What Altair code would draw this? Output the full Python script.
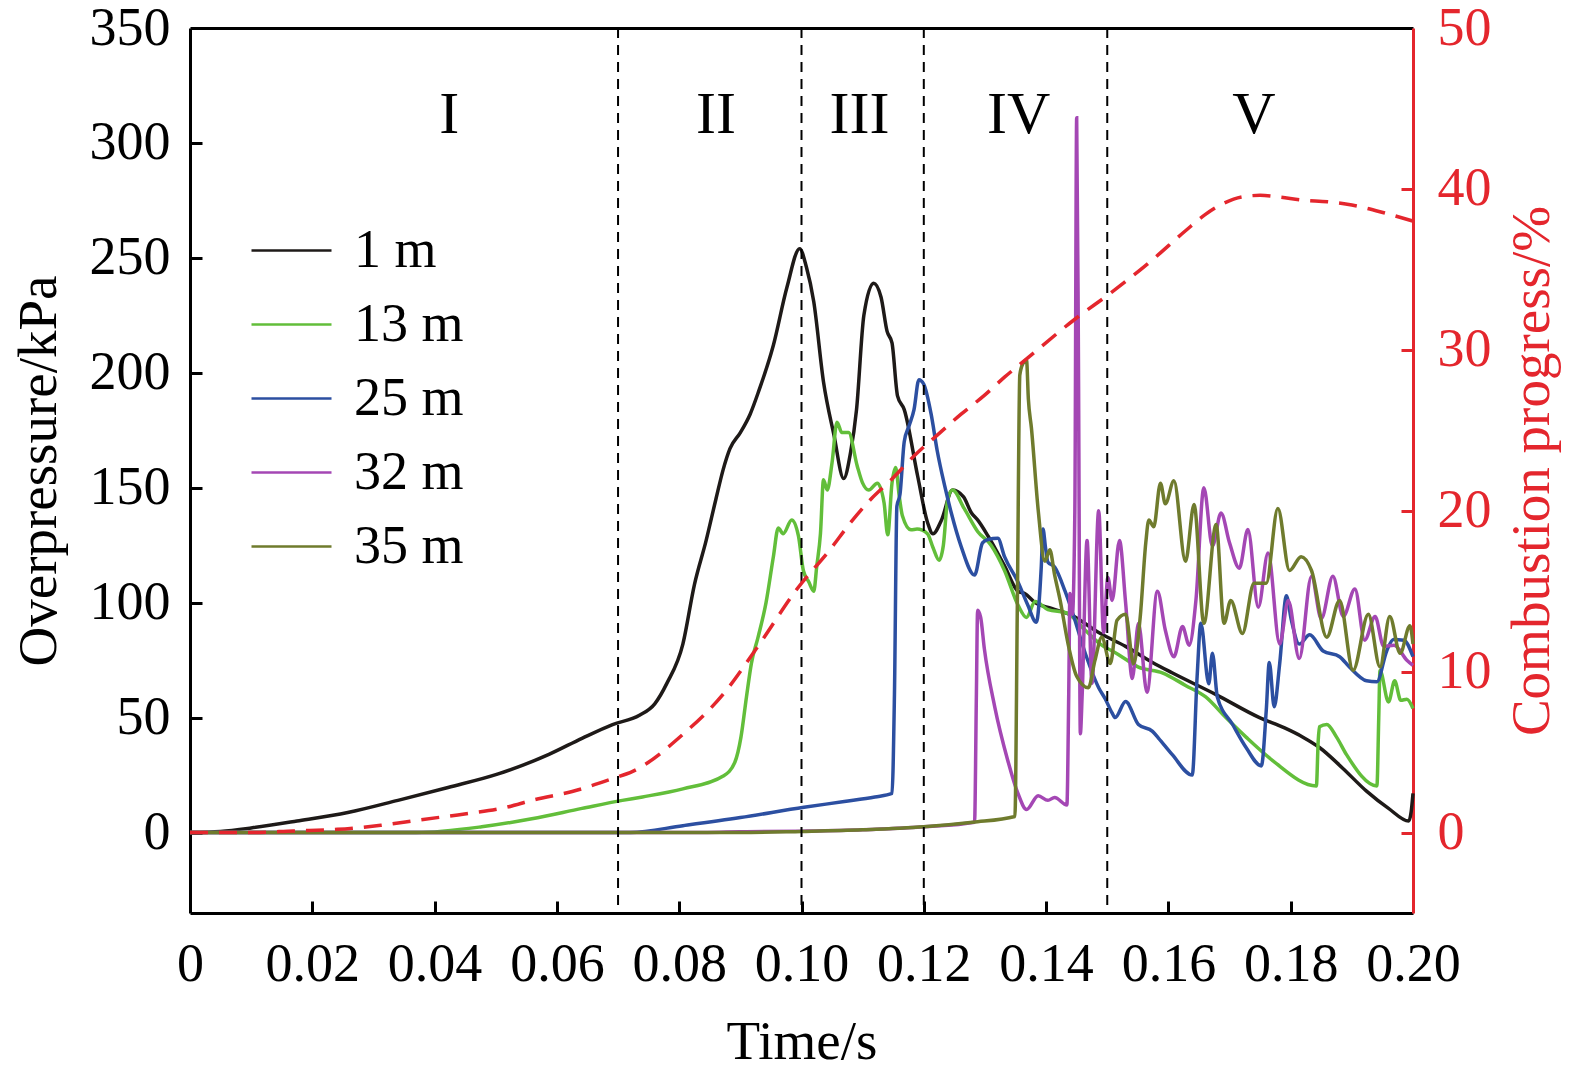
import altair as alt
import pandas as pd

FONT = "Liberation Serif"
RED = "#e4262d"

# ---------------- data ----------------
series_names = ["1 m", "13 m", "25 m", "32 m", "35 m"]
series_colors = ["#1e1a18", "#62be3a", "#2c4fa1", "#a447b4", "#6f7b2d"]

t_1m = [0, 0.005, 0.01, 0.0175, 0.0258, 0.034, 0.0422, 0.0504, 0.0587, 0.0641, 0.0691, 0.0735,
        0.076, 0.078, 0.0806, 0.0825, 0.0844, 0.086, 0.0872, 0.0883, 0.090, 0.0916, 0.093, 0.0954,
        0.0976, 0.0997, 0.1008, 0.102, 0.1036, 0.1053, 0.1069, 0.108, 0.109, 0.1102, 0.1118, 0.113,
        0.114, 0.1148, 0.1157, 0.1168, 0.119, 0.1206, 0.1215, 0.1229, 0.1247, 0.1265, 0.1278, 0.1288,
        0.1305, 0.1332, 0.1354, 0.1365, 0.1382, 0.1409, 0.1442, 0.1486, 0.153, 0.1574, 0.1606, 0.1678,
        0.1749, 0.179, 0.182, 0.1847, 0.1885, 0.1924, 0.196, 0.1993, 0.1997, 0.2]
p_1m = [0, 0.5, 2, 5, 8.7, 14, 19.6, 25.5, 34, 41, 47, 51,
        56, 65, 82, 108, 127, 145, 158, 167, 174, 182, 192, 212,
        237, 254, 246, 231, 196, 173, 154, 165, 184, 225, 239, 233,
        218, 213, 190, 184, 155, 135, 130, 136, 149, 146, 139, 136,
        129, 116, 105, 104, 100, 97.5, 94.5, 87, 81, 74, 69.5, 60,
        50, 45.5, 41.5, 37, 28, 18, 10.5, 5, 9, 17]

t_13m = [0, 0.037, 0.0477, 0.0559, 0.0641, 0.0707, 0.074, 0.0806, 0.0872, 0.0891, 0.0901, 0.091,
         0.0918, 0.0929, 0.0942, 0.0954, 0.0962, 0.097, 0.0984, 0.0995, 0.1003, 0.1012, 0.102, 0.1025,
         0.1031, 0.1036, 0.1042, 0.105, 0.1058, 0.1066, 0.1077, 0.1091, 0.110, 0.111, 0.1124, 0.1135,
         0.1141, 0.1148, 0.1154, 0.116, 0.1165, 0.1179, 0.1189, 0.1206, 0.1215, 0.1225, 0.1232, 0.1239,
         0.1247, 0.1266, 0.1288, 0.131, 0.1332, 0.1354, 0.1368, 0.1382, 0.1403, 0.1434, 0.1464, 0.1486,
         0.1518, 0.1551, 0.159, 0.1628, 0.1661, 0.1694, 0.1727, 0.1771, 0.1842, 0.1845, 0.1847, 0.1859,
         0.1875, 0.1891, 0.1941, 0.1944, 0.1946, 0.196, 0.197, 0.198, 0.199, 0.2]
p_13m = [0, 0, 2.5, 6, 10.5, 14, 15.5, 19, 24.6, 30.6, 41.5, 59,
         73.5, 85, 100, 120, 132.5, 130, 136, 129, 114, 109, 105, 116,
         130, 153.5, 149, 161, 178.5, 174, 174, 159.6, 152, 149, 152, 143.5,
         129.5, 152, 158.8, 146, 137.8, 131.7, 132, 130, 124, 118.5, 125, 144.8,
         149, 141, 131, 125, 114, 99, 93.6, 100.5, 97, 95.5, 88, 82.5,
         77.5, 72, 69.5, 64, 59, 50, 41.5, 31.2, 20.3, 40, 46, 47,
         41.5, 34, 20.3, 50, 70.5, 56.8, 66, 57.5, 58, 54]

t_25m = [0, 0.072, 0.0806, 0.09, 0.1004, 0.107, 0.112, 0.1148, 0.1152, 0.1156, 0.1161, 0.1168,
         0.1176, 0.1184, 0.1192, 0.12, 0.1212, 0.1222, 0.1234, 0.1245, 0.1261, 0.1283, 0.1296, 0.1305,
         0.1321, 0.1332, 0.1354, 0.137, 0.1384, 0.1392, 0.1395, 0.1399, 0.1403, 0.1414, 0.1431, 0.1442,
         0.1464, 0.1486, 0.1497, 0.1508, 0.1513, 0.153, 0.1551, 0.1574, 0.1584, 0.1606, 0.1639, 0.1647,
         0.1653, 0.1666, 0.1672, 0.168, 0.1705, 0.1727, 0.1752, 0.176, 0.1765, 0.1773, 0.1782, 0.1793,
         0.1801, 0.1814, 0.1831, 0.1853, 0.188, 0.1896, 0.1924, 0.1941, 0.1957, 0.1968, 0.1985, 0.2]
p_25m = [0, 0, 3, 6.5, 11, 13.5, 15.5, 17, 60, 142, 147, 170,
         177, 184, 197, 195, 182, 166, 151, 139, 124.5, 112, 126, 127.5,
         128, 120, 109, 99, 91.5, 115, 132, 124, 117.6, 115.5, 105, 96.7,
         78, 63, 58, 52, 50, 57, 47, 44, 41, 34, 25, 68,
         91, 64.7, 78, 59, 47, 37, 29, 53, 74, 54.7, 73.5, 103,
         92.5, 82, 86, 79, 76.5, 72, 66, 65.6, 79, 84, 83.7, 76.5]

t_32m = [0, 0.08, 0.09, 0.10, 0.11, 0.12, 0.1283, 0.1286, 0.1288, 0.1293, 0.1299, 0.1316,
         0.1337, 0.1354, 0.1368, 0.1387, 0.1403, 0.1414, 0.1434, 0.1437, 0.1439, 0.1443, 0.1447, 0.145,
         0.1453, 0.1456, 0.1459, 0.1467, 0.1475, 0.1486, 0.1494, 0.1501, 0.1508, 0.152, 0.153, 0.1541,
         0.1551, 0.1565, 0.1582, 0.1595, 0.1609, 0.1623, 0.1634, 0.1645, 0.1658, 0.1672, 0.1686, 0.170,
         0.1716, 0.173, 0.1747, 0.1763, 0.1782, 0.1796, 0.1814, 0.1834, 0.185, 0.1869, 0.1886, 0.1905,
         0.1921, 0.1938, 0.1952, 0.1969, 0.199, 0.2]
p_32m = [0, 0, 0.3, 0.6, 1.2, 2.5, 4.5, 60, 96.7, 93.6, 80, 54.7,
         31.7, 17, 10, 16, 14, 15.3, 12, 60, 104, 95, 140, 311,
         200, 43, 60, 127, 65, 140, 87, 111, 101, 127, 100, 67,
         91, 61, 105, 88, 76.5, 89.6, 81.5, 101, 150, 124.6, 139, 126,
         115, 131.8, 98, 121.6, 82, 101, 75.7, 111.5, 93, 111.5, 94, 106,
         83.7, 94, 81, 81.5, 75, 72.7]

t_35m = [0, 0.09, 0.10, 0.11, 0.12, 0.128, 0.1349, 0.1353, 0.1357, 0.1362, 0.1368, 0.1371,
         0.1376, 0.1387, 0.1398, 0.1406, 0.1414, 0.1423, 0.1436, 0.145, 0.1469, 0.148, 0.1491, 0.1505,
         0.1516, 0.153, 0.1543, 0.1554, 0.1563, 0.1568, 0.1576, 0.1587, 0.1595, 0.1609, 0.1628, 0.1642,
         0.1658, 0.1678, 0.1691, 0.1702, 0.1721, 0.174, 0.176, 0.1779, 0.1798, 0.1817, 0.1834, 0.1859,
         0.188, 0.1902, 0.1927, 0.1946, 0.1962, 0.1979, 0.1995, 0.2]
p_35m = [0, 0, 0.5, 1.2, 2.5, 4.5, 7, 100, 199, 204, 205.6, 188.6,
         176, 140.5, 118, 123, 112, 101, 82, 68, 63, 75, 85, 73.5,
         92.4, 95, 73.5, 94, 126, 136, 133, 152, 143, 153, 118, 142.7,
         91, 134, 91, 101, 86.6, 108.5, 108.5, 141, 114, 120, 114, 85,
         101, 70.5, 95, 72, 94, 78, 90, 82]

t_comb = [0, 0.01, 0.0169, 0.0241, 0.0312, 0.0378, 0.0449, 0.0515, 0.0564, 0.0625, 0.0691, 0.0724,
          0.0806, 0.0872, 0.0932, 0.0992, 0.1047, 0.108, 0.1113, 0.1146, 0.1184, 0.1222, 0.1261, 0.13,
          0.1332, 0.137, 0.1447, 0.1508, 0.1574, 0.1628, 0.166, 0.169, 0.172, 0.175, 0.178, 0.182,
          0.186, 0.19, 0.1954, 0.2]
c_comb = [0, 0, 0.1, 0.2, 0.45, 0.8, 1.15, 1.55, 2.05, 2.55, 3.35, 3.8,
          6.1, 8.6, 11.75, 15.1, 17.6, 19.25, 20.7, 21.9, 23.4, 24.7, 26, 27.2,
          28.3, 29.5, 31.9, 33.6, 35.6, 37.4, 38.4, 39.1, 39.5, 39.6, 39.5, 39.3,
          39.2, 39.0, 38.5, 38.0]

phase_bounds = [0.07, 0.10, 0.12, 0.15]
numerals = ["I", "II", "III", "IV", "V"]
numeral_t = [0.0424, 0.086, 0.1095, 0.1355, 0.174]
numeral_p = [312, 312, 312, 312, 312]

x_ticks = [0, 0.02, 0.04, 0.06, 0.08, 0.10, 0.12, 0.14, 0.16, 0.18, 0.20]
x_inner_ticks = [0.02, 0.04, 0.06, 0.08, 0.10, 0.12, 0.14, 0.16, 0.18]
y_ticks = [0, 50, 100, 150, 200, 250, 300, 350]
y_inner_ticks = [0, 50, 100, 150, 200, 250, 300]
c_ticks = [0, 10, 20, 30, 40, 50]
c_inner_ticks = [0, 10, 20, 30, 40]

# ---------------- tables ----------------
rows = []
for name, ts, ps in zip(series_names, [t_1m, t_13m, t_25m, t_32m, t_35m],
                        [p_1m, p_13m, p_25m, p_32m, p_35m]):
    for i, (t, p) in enumerate(zip(ts, ps)):
        rows.append({"series": name, "t": t, "p": p, "order": i})
df = pd.DataFrame(rows)
comb_df = pd.DataFrame({"t": t_comb, "c": c_comb})
phase_df = pd.DataFrame({"t": phase_bounds})
num_df = pd.DataFrame({"label": numerals, "t": numeral_t, "p": numeral_p})

xscale = alt.Scale(domain=[0, 0.2], nice=False, zero=False)
pscale = alt.Scale(domain=[-35, 350], nice=False, zero=False)
cscale = alt.Scale(domain=[-5, 50], nice=False, zero=False)

common_lbl = dict(labelFont=FONT, labelFontSize=54, titleFont=FONT, titleFontSize=55,
                  titleFontWeight="normal", grid=False, labelFlush=False, labelOverlap=False)

lines = alt.Chart(df).mark_line(strokeWidth=3.5, interpolate="monotone").encode(
    x=alt.X("t:Q", scale=xscale, axis=alt.Axis(
        orient="bottom", values=x_ticks, title="Time/s", ticks=False, tickSize=0,
        labelExpr="datum.value == 0 ? '0' : format(datum.value, '.2f')",
        labelPadding=24, titlePadding=24, domainColor="#000", domainWidth=3,
        labelColor="#000", titleColor="#000", **common_lbl)),
    y=alt.Y("p:Q", scale=pscale, axis=alt.Axis(
        orient="left", values=y_ticks, title="Overpressure/kPa", ticks=False, tickSize=0,
        labelPadding=20, titlePadding=22, domainColor="#000", domainWidth=3,
        labelColor="#000", titleColor="#000", **common_lbl)),
    color=alt.Color("series:N", sort=series_names,
                    scale=alt.Scale(domain=series_names, range=series_colors),
                    legend=alt.Legend(title=None, orient="none", legendX=60, legendY=181,
                                      symbolType="stroke", symbolSize=6400, symbolStrokeWidth=2.5,
                                      labelFont=FONT, labelFontSize=54, labelColor="#000",
                                      labelOffset=21, rowPadding=5, padding=0)),
    order="order:Q",
)

rules = alt.Chart(phase_df).mark_rule(strokeDash=[10, 7], strokeWidth=2, color="#000").encode(
    x=alt.X("t:Q", scale=xscale, axis=alt.Axis(
        orient="top", labels=False, ticks=False, title=None, domainColor="#000",
        domainWidth=3, grid=False)),
)

comb = alt.Chart(comb_df).mark_line(color=RED, strokeWidth=3.5, strokeDash=[18, 11],
                                    interpolate="monotone").encode(
    x=alt.X("t:Q", scale=xscale, axis=None),
    y=alt.Y("c:Q", scale=cscale, axis=alt.Axis(
        orient="right", values=c_ticks, title="Combustion progress/%", ticks=False, tickSize=0,
        labelPadding=24, titlePadding=14, titleAngle=270, titleBaseline="top",
        domainColor=RED, domainWidth=3, labelColor=RED, titleColor=RED, **common_lbl)),
)

comb_ticks = alt.Chart(comb_df).mark_line(strokeOpacity=0).encode(
    x=alt.X("t:Q", scale=xscale, axis=None),
    y=alt.Y("c:Q", scale=cscale, axis=alt.Axis(
        orient="right", values=c_inner_ticks, labels=False, domain=False, title=None,
        tickSize=12, tickWidth=3, tickColor=RED, offset=-12, grid=False)),
)

nums = alt.Chart(num_df).mark_text(font=FONT, fontSize=60, color="#000",
                                   align="center", baseline="middle").encode(
    x=alt.X("t:Q", scale=xscale, axis=alt.Axis(
        orient="bottom", values=x_inner_ticks, labels=False, domain=False, title=None,
        tickSize=12, tickWidth=3, tickColor="#000", offset=-12, grid=False)),
    y=alt.Y("p:Q", scale=pscale, axis=alt.Axis(
        orient="left", values=y_inner_ticks, labels=False, domain=False, title=None,
        tickSize=12, tickWidth=3, tickColor="#000", offset=-12, grid=False)),
    text="label:N",
)

chart = alt.layer(lines, rules, comb, comb_ticks, nums).resolve_scale(
    y="independent"
).resolve_axis(
    x="independent", y="independent"
).properties(
    width=1223, height=885,
    autosize=alt.AutoSizeParams(type="none"),
    padding={"left": 182, "top": 20, "right": 150, "bottom": 156},
    background="white",
).configure_view(stroke="transparent")

chart.save("out.html", embed_options={"renderer": "svg", "actions": False})
